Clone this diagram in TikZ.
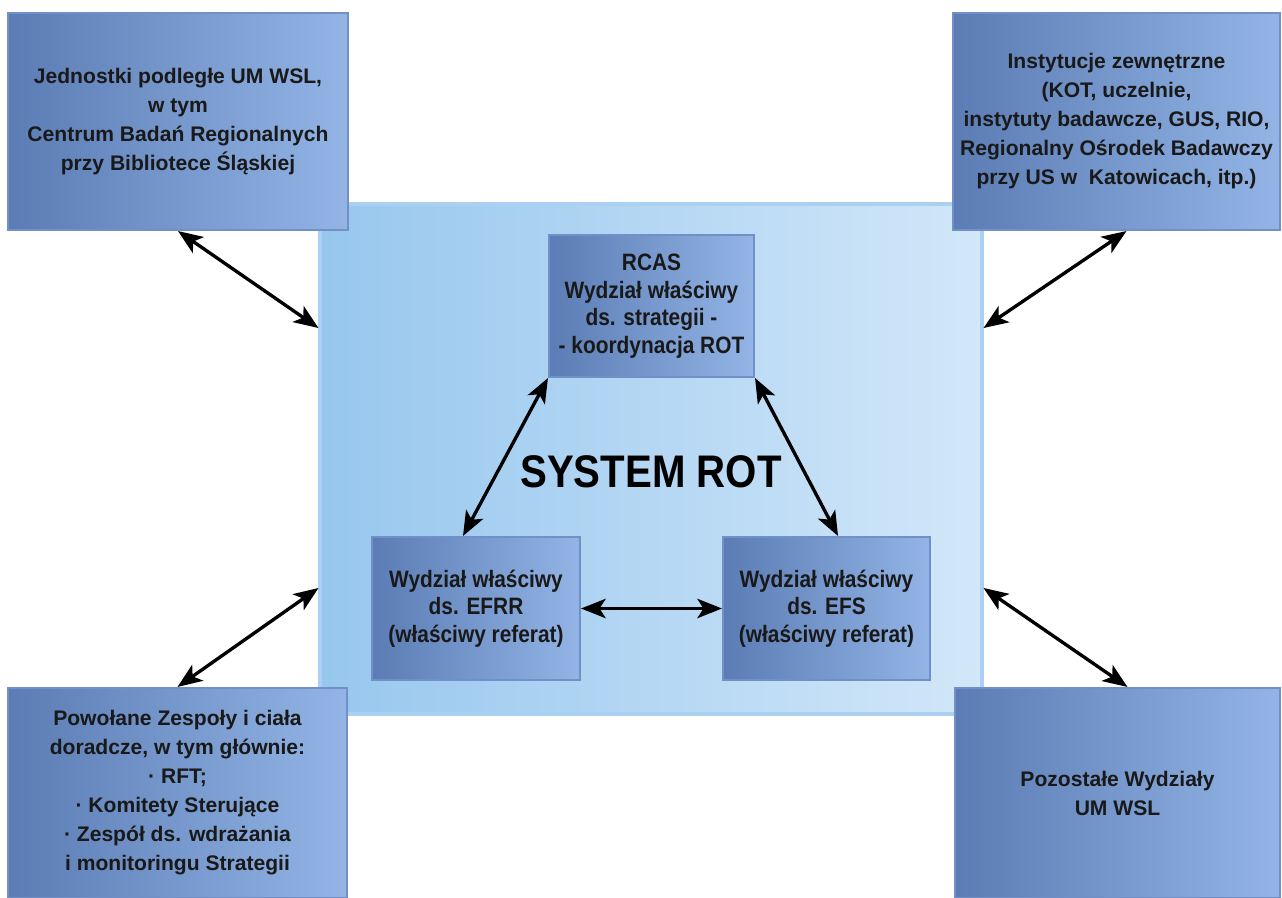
\documentclass[tikz,border=0pt]{standalone}
\usepackage{fontspec}
\setmainfont{Liberation Sans}
\newfontfamily\narrowsans[FakeStretch=0.88]{Liberation Sans}
\usetikzlibrary{arrows.meta,shadings}
\definecolor{boxdark}{HTML}{5B7CB4}
\definecolor{boxlight}{HTML}{93B4E5}
\definecolor{boxedge}{HTML}{7090C7}
\definecolor{sysleft}{HTML}{97C7EE}
\definecolor{sysright}{HTML}{D2E7F9}
\definecolor{sysedge}{HTML}{ACD0F1}
\tikzset{
  unitbox/.style={draw=boxedge, line width=1.2pt, left color=boxdark, right color=boxlight,
    align=center, inner sep=0pt, text=black!90,
    font=\bfseries\fontsize{12}{16.5}\selectfont},
  innerbox/.style={unitbox, font=\narrowsans\bfseries\fontsize{13.5}{15.7}\selectfont},
  sysbox/.style={draw=sysedge, line width=1.8pt, left color=sysleft, right color=sysright, inner sep=0pt},
  link/.style={<->, >={Stealth[length=14pt,width=11pt,inset=3.5pt]}, line width=1.9pt, black}
}

\begin{document}
\begin{tikzpicture}[x=0.02cm, y=-0.02cm]
  \useasboundingbox (0,0) rectangle (1282,898);
  \node[sysbox, minimum width=13.24cm, minimum height=10.2cm] (sys) at (651,459) {};
  \node[unitbox, minimum width=6.8cm, minimum height=4.34cm] (tl) at (178,121.5)
    {Jednostki podległe UM WSL,\\ w tym\\ Centrum Badań Regionalnych\\ przy Bibliotece Śląskiej};
  \node[unitbox, minimum width=6.54cm, minimum height=4.34cm] (tr) at (1116.5,121.5)
    {Instytucje zewnętrzne\\ (KOT, uczelnie,\\ instytuty badawcze, GUS, RIO,\\ Regionalny Ośrodek Badawczy\\ przy US w\ \ Katowicach, itp.)};
  \node[unitbox, minimum width=6.78cm, minimum height=4.2cm] (bl) at (177.5,793)
    {Powołane Zespoły i ciała\\ doradcze, w tym głównie:\\ · RFT;\\ · Komitety Sterujące\\ · Zespół ds. wdrażania\\ i monitoringu Strategii};
  \node[unitbox, minimum width=6.5cm, minimum height=4.2cm] (br) at (1117.5,793)
    {Pozostałe Wydziały\\ UM WSL};
  \node[innerbox, minimum width=4.1cm, minimum height=2.84cm] (rcas) at (651.5,306)
    {RCAS\\ Wydział właściwy\\ ds. strategii -\\ - koordynacja ROT};
  \node[innerbox, minimum width=4.16cm, minimum height=2.86cm] (efrr) at (476,608.5)
    {Wydział właściwy\\ ds. EFRR\\ (właściwy referat)};
  \node[innerbox, minimum width=4.14cm, minimum height=2.86cm] (efs) at (826.5,608.5)
    {Wydział właściwy\\ ds. EFS\\ (właściwy referat)};
  \node[anchor=base, inner sep=0pt, font=\narrowsans\bfseries\fontsize{26}{30}\selectfont] (title) at (651,488) {SYSTEM ROT};
  \draw[link] (tl.south) -- ([yshift=2.62cm]sys.west);
  \draw[link] ([xshift=0.2cm]tr.south) -- ([yshift=2.62cm]sys.east);
  \draw[link] (bl.north) -- ([yshift=-2.58cm]sys.west);
  \draw[link] ([xshift=0.2cm]br.north) -- ([yshift=-2.58cm]sys.east);
  \draw[link] (rcas.south west) -- ([xshift=-0.26cm]efrr.north);
  \draw[link] (rcas.south east) -- ([xshift=0.23cm]efs.north);
  \draw[link] (efrr.east) -- (efs.west);
\end{tikzpicture}
\end{document}
